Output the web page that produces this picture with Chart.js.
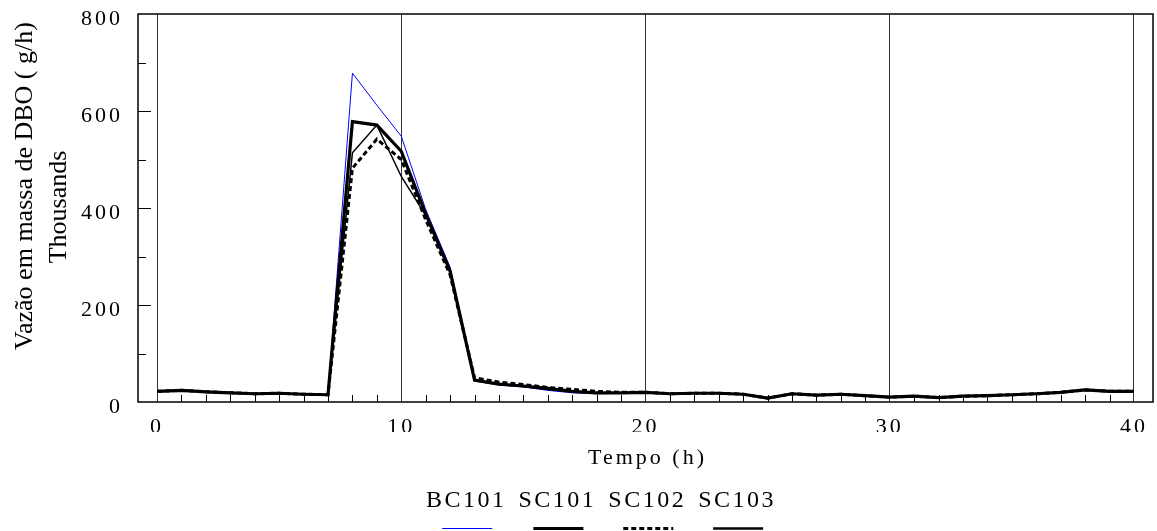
<!DOCTYPE html>
<html lang="pt">
<head>
<meta charset="UTF-8">
<title>Vazão em massa de DBO</title>
<script src="https://cdn.jsdelivr.net/npm/chart.js"></script>
<style>
  body { margin: 0; background: #fff; }
  canvas { display: block; }
</style>
</head>
<body>
<canvas id="chart" width="1157" height="531"></canvas>
<script>
// tempo (h)
const horas = [0, 1, 2, 3, 4, 5, 6, 7, 8, 9, 10, 11, 12, 13, 14, 15, 16, 17, 18, 19, 20,
               21, 22, 23, 24, 25, 26, 27, 28, 29, 30, 31, 32, 33, 34, 35, 36, 37, 38, 39, 40];

// vazão em massa de DBO, milhares de g/h
const bc101 = [22, 24, 21, 19, 17, 18, 16, 15, 678, 612, 548, 397, 278, 43, 35, 31, 24, 19, 17, 18, 20,
               17, 18, 18, 16, 8, 17, 14, 16, 13, 10, 12, 9, 12, 13, 15, 17, 20, 25, 22, 22];
const sc101 = [22, 24, 21, 19, 17, 18, 16, 15, 578, 571, 517, 388, 270, 45, 37, 33, 28, 22, 19, 19, 20,
               17, 18, 18, 16, 8, 17, 14, 16, 13, 10, 12, 9, 12, 13, 15, 17, 20, 25, 22, 22];
const sc102 = [22, 24, 21, 19, 17, 18, 16, 15, 482, 542, 500, 376, 262, 50, 41, 36, 30, 26, 22, 20, 20,
               17, 18, 18, 16, 8, 17, 14, 16, 13, 10, 12, 9, 12, 13, 15, 17, 20, 25, 22, 22];
const sc103 = [22, 24, 21, 19, 17, 18, 16, 15, 514, 571, 465, 385, 268, 45, 36, 32, 26, 21, 18, 19, 20,
               17, 18, 18, 16, 8, 17, 14, 16, 13, 10, 12, 9, 12, 13, 15, 17, 20, 25, 22, 22];

const xTicks = [0, 10, 20, 30, 40];
const tituloX = 'Tempo (h)';
const tituloY = ['Vazão em massa de DBO ( g/h)', 'Thousands'];

const SERIF = '"Liberation Serif", "Times New Roman", serif';
const ESPACO = '3px';

function pontos(vals) {
    return horas.map((h, i) => ({ x: h, y: vals[i] }));
}

// moldura, marcas internas, títulos e legenda
const moldura = {
    id: 'moldura',
    beforeLayout(chart) { chart.ctx.letterSpacing = ESPACO; },
    beforeDraw(chart) { chart.ctx.letterSpacing = ESPACO; },
    afterDraw(chart) {
        const { ctx, chartArea: a, scales: { x, y } } = chart;
        ctx.save();
        ctx.strokeStyle = '#000';
        ctx.lineWidth = 1;
        ctx.beginPath();
        for (let h = 1; h < 40; h++) {
            if (h % 10 === 0) continue;
            const px = Math.round(x.getPixelForValue(h)) + 0.5;
            ctx.moveTo(px, a.bottom);
            ctx.lineTo(px, a.bottom - 7);
        }
        for (let v = 100; v < 800; v += 100) {
            const py = Math.round(y.getPixelForValue(v)) + 0.5;
            ctx.moveTo(a.left, py);
            ctx.lineTo(a.left + (v % 200 === 0 ? 13 : 8), py);
        }
        ctx.stroke();
        ctx.lineWidth = 1.5;
        ctx.strokeRect(a.left, a.top, a.right - a.left, a.bottom - a.top);

        ctx.fillStyle = '#000';
        // eixo x
        ctx.letterSpacing = ESPACO;
        ctx.font = '22px ' + SERIF;
        ctx.textAlign = 'center';
        ctx.textBaseline = 'middle';
        ctx.fillText(tituloX, (a.left + a.right) / 2 + 2, 458);

        // eixo y (duas linhas)
        ctx.letterSpacing = '0px';
        ctx.font = '26px ' + SERIF;
        ctx.textBaseline = 'alphabetic';
        [[32, 186], [66, 207]].forEach(([bx, cy], i) => {
            ctx.save();
            ctx.translate(bx, cy);
            ctx.rotate(-Math.PI / 2);
            ctx.fillText(tituloY[i], 0, 0);
            ctx.restore();
        });

        // legenda: texto em cima, amostra de linha embaixo
        ctx.letterSpacing = '2.5px';
        ctx.font = '24px ' + SERIF;
        ctx.textBaseline = 'middle';
        const sets = chart.data.datasets;
        const gap = 12;
        const widths = sets.map(d => ctx.measureText(d.label).width);
        const total = widths.reduce((s, w) => s + w, 0) + gap * (sets.length - 1);
        let cx = 601 - total / 2;
        sets.forEach((d, i) => {
            const mid = cx + widths[i] / 2;
            ctx.fillText(d.label, mid, 501);
            ctx.save();
            ctx.strokeStyle = d.borderColor;
            ctx.lineWidth = d.borderWidth <= 1 ? 1 : Math.max(d.borderWidth, 2.5);
            ctx.setLineDash(d.borderDash || []);
            ctx.beginPath();
            ctx.moveTo(mid - 24, 528.5);
            ctx.lineTo(mid + 26, 528.5);
            ctx.stroke();
            ctx.restore();
            cx += widths[i] + gap;
        });
        ctx.restore();
    }
};

new Chart(document.getElementById('chart'), {
    type: 'line',
    data: {
        datasets: [
            { label: 'BC101', data: pontos(bc101), borderColor: '#0000ff', borderWidth: 1, order: 4 },
            { label: 'SC101', data: pontos(sc101), borderColor: '#000', borderWidth: 3.2, order: 2 },
            { label: 'SC102', data: pontos(sc102), borderColor: '#000', borderWidth: 3, borderDash: [5, 3], order: 3 },
            { label: 'SC103', data: pontos(sc103), borderColor: '#000', borderWidth: 1.5, order: 1 }
        ]
    },
    options: {
        responsive: false,
        animation: false,
        layout: { padding: { left: 0, top: 14, right: 4, bottom: 99 } },
        elements: { point: { radius: 0 }, line: { tension: 0 } },
        plugins: { legend: { display: false }, tooltip: { enabled: false } },
        scales: {
            x: {
                type: 'linear',
                min: -0.78,
                max: 40.78,
                afterBuildTicks: s => { s.ticks = xTicks.map(v => ({ value: v })); },
                afterFit: s => { s.height = 30; s.paddingLeft = 0; s.paddingRight = 0; },
                grid: { color: '#333', lineWidth: 1, drawTicks: false },
                border: { display: false },
                ticks: { color: '#000', font: { family: SERIF, size: 22 }, padding: 12, maxRotation: 0 }
            },
            y: {
                min: 0,
                max: 800,
                afterFit: s => { s.width = 138; s.paddingTop = 0; s.paddingBottom = 0; },
                grid: { display: false, drawTicks: false },
                border: { display: false },
                ticks: { stepSize: 200, color: '#000', font: { family: SERIF, size: 22 }, padding: 15, labelOffset: 5 }
            }
        }
    },
    plugins: [moldura]
});
</script>
</body>
</html>
